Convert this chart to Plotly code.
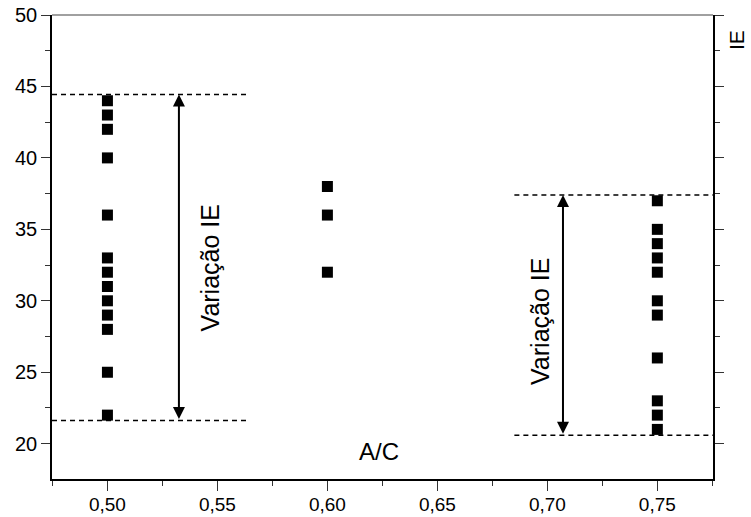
import plotly.graph_objects as go

# ---- data ----
ac_050 = [0.50] * 13
ie_050 = [44, 43, 42, 40, 36, 33, 32, 31, 30, 29, 28, 25, 22]
ac_060 = [0.60] * 3
ie_060 = [38, 36, 32]
ac_075 = [0.75] * 11
ie_075 = [37, 35, 34, 33, 32, 30, 29, 26, 23, 22, 21]

# variation ranges (dashed bounds) and arrow positions
range_left_x = [0.4748, 0.5647]
range_left_y = [44.43, 21.63]
arrow_left_x = 0.5325
range_right_x = [0.685, 0.7753]
range_right_y = [37.41, 20.59]
arrow_right_x = 0.7071

x_tickvals = [0.50, 0.55, 0.60, 0.65, 0.70, 0.75]
x_ticktext = ["0,50", "0,55", "0,60", "0,65", "0,70", "0,75"]
y_tickvals = [20, 25, 30, 35, 40, 45, 50]

FONT = "Liberation Sans, Arial, sans-serif"

fig = go.Figure()
for xs, ys in [(ac_050, ie_050), (ac_060, ie_060), (ac_075, ie_075)]:
    fig.add_trace(go.Scatter(
        x=xs, y=ys, mode="markers",
        marker=dict(symbol="square", size=11, color="black", line=dict(width=0)),
        showlegend=False, hoverinfo="skip"))

# dashed bounds
for rx, ry in [(range_left_x, range_left_y), (range_right_x, range_right_y)]:
    for yv in ry:
        fig.add_shape(type="line", xref="x", yref="y", x0=rx[0], x1=rx[1], y0=yv, y1=yv,
                      line=dict(color="black", width=1.5, dash="5px,4px"))

# double-headed arrows
for ax_x, ry in [(arrow_left_x, range_left_y), (arrow_right_x, range_right_y)]:
    fig.add_annotation(x=ax_x, y=ry[0], ax=ax_x, ay=ry[1], xref="x", yref="y",
                       axref="x", ayref="y", text="", showarrow=True,
                       arrowhead=2, startarrowhead=2, arrowside="end+start",
                       arrowsize=1.2, startarrowsize=1.2, arrowwidth=2, arrowcolor="black")

# texts
fig.add_annotation(x=0.5464, y=32.3, xref="x", yref="y", text="Variação IE", textangle=-90,
                   xanchor="center", yanchor="middle",
                   showarrow=False, font=dict(family=FONT, size=25, color="black"))
fig.add_annotation(x=0.6964, y=28.55, xref="x", yref="y", text="Variação IE", textangle=-90,
                   xanchor="center", yanchor="middle",
                   showarrow=False, font=dict(family=FONT, size=25, color="black"))
fig.add_annotation(x=0.6236, y=19.45, xref="x", yref="y", text="A/C",
                   xanchor="center", yanchor="middle",
                   showarrow=False, font=dict(family=FONT, size=24, color="black"))
fig.add_annotation(x=1.0348, y=0.946, xref="paper", yref="paper", text="IE", textangle=-90,
                   xanchor="center", yanchor="middle", borderpad=0,
                   showarrow=False, font=dict(family=FONT, size=21, color="black"))

# top border (gray)
fig.add_shape(type="line", xref="paper", yref="paper", x0=0, x1=1, y0=1, y1=1,
              line=dict(color="#808080", width=1.5))

fig.update_xaxes(range=[0.4748, 0.7753], tickvals=x_tickvals, ticktext=x_ticktext,
                 automargin=False, ticklabelstandoff=-3,
                 showgrid=False, zeroline=False, showline=True, linecolor="black", linewidth=1.5,
                 ticks="outside", ticklen=10, tickwidth=1.2, tickcolor="#333",
                 minor=dict(ticks="outside", ticklen=5, dtick=0.025, tick0=0.5, tickcolor="#333", showgrid=False),
                 tickfont=dict(family=FONT, size=19, color="black"))
fig.update_yaxes(range=[17.53, 50], tickvals=y_tickvals,
                 automargin=False,
                 showgrid=False, zeroline=False, showline=True, linecolor="black", linewidth=1.5,
                 mirror="ticks", ticks="outside", ticklen=9, tickwidth=1.2, tickcolor="#333",
                 minor=dict(ticks="outside", ticklen=5, dtick=2.5, tick0=0, tickcolor="#333", showgrid=False),
                 tickfont=dict(family=FONT, size=20, color="black"))

fig.update_layout(width=751, height=517, margin=dict(l=52, r=38, t=15, b=38),
                  plot_bgcolor="white", paper_bgcolor="white", font=dict(family=FONT))

fig.write_html("out.html")
